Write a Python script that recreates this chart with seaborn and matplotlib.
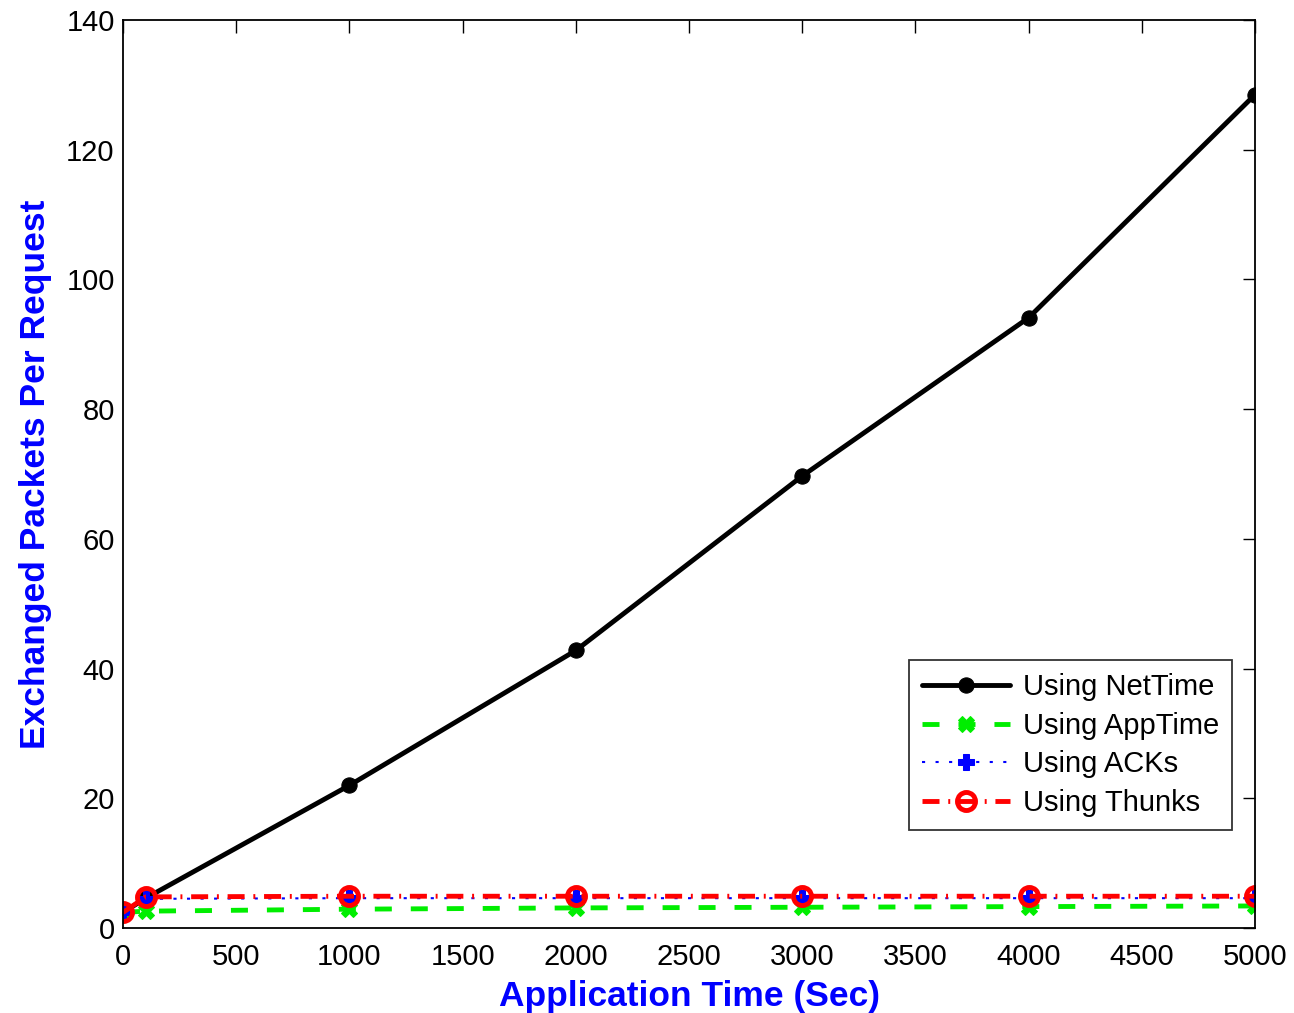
import matplotlib
matplotlib.use("Agg")
import matplotlib.pyplot as plt
import seaborn as sns
import pandas as pd

app_time = [0, 100, 1000, 2000, 3000, 4000, 5000]
net_time = [2.4, 4.6, 22.0, 42.8, 69.7, 94.1, 128.5]
app_time_series = [2.4, 2.6, 2.9, 3.1, 3.2, 3.3, 3.4]
acks = [2.4, 4.5, 4.6, 4.6, 4.6, 4.6, 4.6]
thunks = [2.4, 4.8, 4.9, 4.9, 4.9, 4.9, 4.9]

x_ticks = [0, 500, 1000, 1500, 2000, 2500, 3000, 3500, 4000, 4500, 5000]
y_ticks = [0, 20, 40, 60, 80, 100, 120, 140]

sns.set_style("white")
plt.rcParams['font.family'] = ['Liberation Sans', 'DejaVu Sans']
plt.rcParams['text.color'] = 'black'

fig = plt.figure(figsize=(12.94, 10.13), dpi=100)
ax = fig.add_axes([0.0951, 0.0839, 0.8748, 0.8963])

df = pd.DataFrame({"t": app_time, "NetTime": net_time, "AppTime": app_time_series,
                   "ACKs": acks, "Thunks": thunks})

sns.lineplot(data=df, x="t", y="NetTime", ax=ax, color="black", lw=3.5,
             marker="o", markersize=11, markeredgecolor="black", label="Using NetTime")
sns.lineplot(data=df, x="t", y="AppTime", ax=ax, color="#00ee00", lw=3.5,
             linestyle=(0, (3.5, 3.9)), marker="X", markersize=11, markeredgecolor="#00ee00",
             label="Using AppTime")
sns.lineplot(data=df, x="t", y="ACKs", ax=ax, color="blue", lw=1.5,
             linestyle=(0, (1.5, 5)), marker="P", markersize=11, markeredgecolor="blue",
             label="Using ACKs")
sns.lineplot(data=df, x="t", y="Thunks", ax=ax, color="red", lw=3.5,
             linestyle=(0, (3.5, 1.8, 0.4, 1.8)), marker="o", markersize=13,
             markerfacecolor="none", markeredgecolor="red", markeredgewidth=3.5,
             label="Using Thunks")

ax.set_xlim(0, 5000)
ax.set_ylim(0, 140)
ax.set_xticks(x_ticks)
ax.set_yticks(y_ticks)
ax.tick_params(axis="both", direction="in", top=True, right=True, length=9,
               width=1, labelsize=21, colors="black")
ax.tick_params(axis="x", pad=11)
ax.tick_params(axis="y", pad=6)
for s in ax.spines.values():
    s.set_color("black")
    s.set_linewidth(1.3)

ax.set_xlabel("Application Time (Sec)", fontsize=25.5, fontweight="bold", color="blue", labelpad=6)
ax.set_ylabel("Exchanged Packets Per Request", fontsize=25.5, fontweight="bold", color="blue", labelpad=10)

leg = ax.legend(loc="lower right", bbox_to_anchor=(0.98, 0.108), borderaxespad=0,
                fontsize=21, frameon=True, fancybox=False, handlelength=3.0,
                handletextpad=0.45, labelspacing=0.36, borderpad=0.45, edgecolor="black")
leg.get_frame().set_linewidth(1.3)
for t in leg.get_texts():
    t.set_color("black")

fig.savefig("out.png", dpi=100)
